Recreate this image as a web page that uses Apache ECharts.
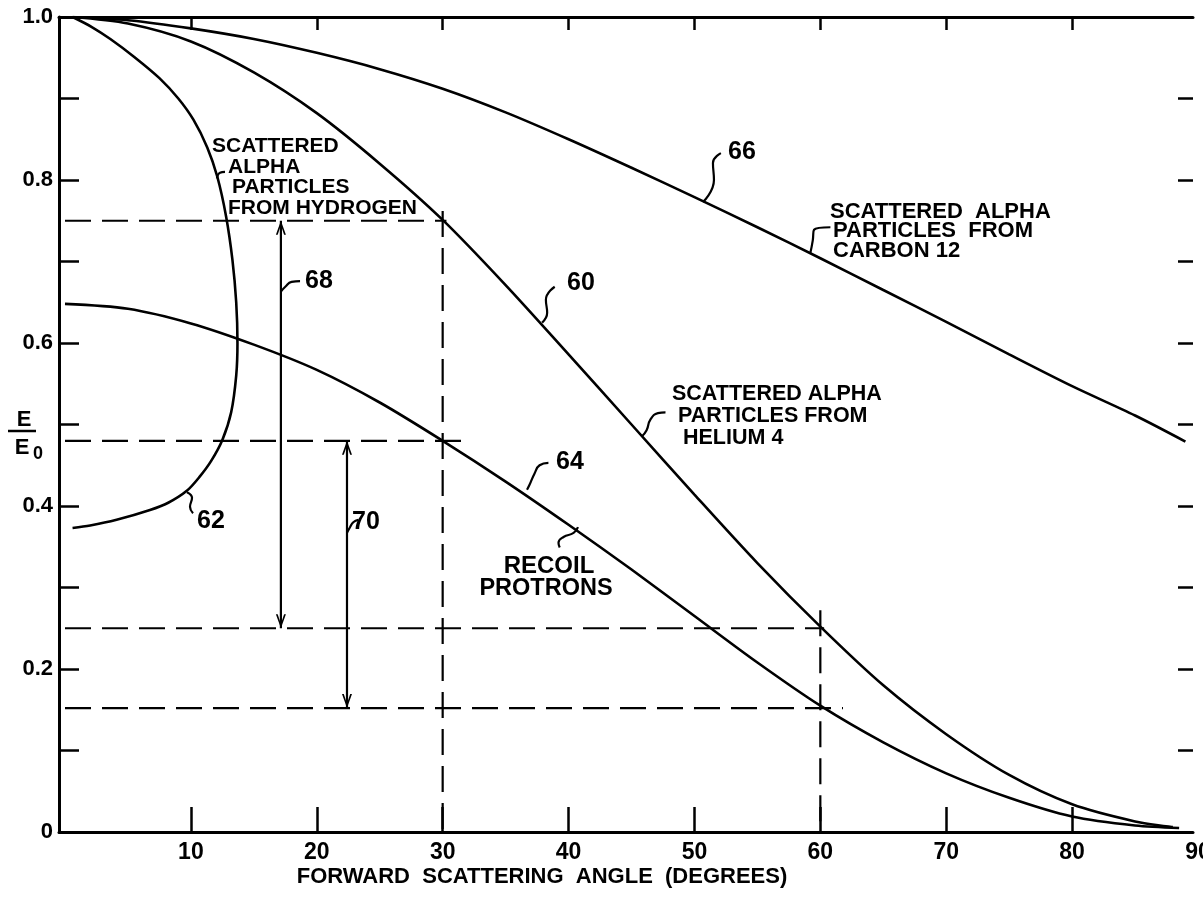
<!DOCTYPE html>
<html><head><meta charset="utf-8">
<script src="https://cdn.jsdelivr.net/npm/echarts@6/dist/echarts.min.js"></script>
<style>html,body{margin:0;padding:0;background:#fff}#c{width:1203px;height:902px}</style>
</head><body><div id="c"></div>
<script>
// ---- axis ticks / labels ----
const xTicks = [10, 20, 30, 40, 50, 60, 70, 80];
const xTickLabels = [10, 20, 30, 40, 50, 60, 70, 80, 90];
const yTickLabels = ['0', '0.2', '0.4', '0.6', '0.8', '1.0'];

// ---- curves: [angle (deg), E/E0] ----
const carbonCurve = [[0.6,1.0],[5,0.996],[10,0.986],[15,0.973],[20,0.956],[25,0.936],[30,0.912],[35,0.883],[40,0.850],[45,0.815],[50,0.779],[55,0.742],[60,0.704],[65,0.665],[70,0.626],[75,0.586],[80,0.547],[85,0.511],[89,0.479]];
const heliumCurve = [[0.6,1.0],[5,0.992],[10,0.97],[15,0.932],[20,0.882],[25,0.82],[30,0.751],[35,0.671],[40,0.586],[45,0.5],[50,0.414],[55,0.33],[60,0.252],[65,0.18],[70,0.12],[75,0.07],[80,0.034],[85,0.013],[88,0.006]];
const hydrogenCurve = [[0.6,1.0],[2.1,0.988],[3.6,0.973],[5.5,0.951],[7.5,0.925],[9,0.9],[10.2,0.874],[11.3,0.84],[12.1,0.804],[12.8,0.755],[13.3,0.702],[13.6,0.65],[13.7,0.6],[13.6,0.56],[13.2,0.515],[12.5,0.481],[11.6,0.455],[10.7,0.436],[9.7,0.419],[8.2,0.404],[6.75,0.395],[4.1,0.383],[2,0.376],[0.6,0.373]];
const protonCurve = [[0,0.648],[5,0.642],[10,0.624],[15,0.598],[20,0.567],[25,0.527],[30,0.48],[35,0.43],[40,0.377],[45,0.322],[50,0.265],[55,0.208],[60,0.155],[65,0.11],[70,0.072],[75,0.042],[80,0.019],[85,0.008],[88.5,0.005]];

// ---- dashed construction lines ----
const guide75 = [[0,0.75],[30.3,0.75]];
const guide30 = [[30,0.762],[30,0]];
const guide48 = [[0,0.48],[31.8,0.48]];
const guide25 = [[0,0.25],[60.3,0.25]];
const guide60 = [[60,0.272],[60,0]];
const guide15 = [[0,0.152],[61.8,0.152]];

// ---- double arrows ----
const arrow68 = [[17.15,0.75],[17.15,0.25]];
const arrow70 = [[22.4,0.48],[22.4,0.152]];

// ---- leader lines to reference numerals ----
const lead66 = [[50.68,0.773],[51.55,0.8],[51.47,0.821],[52.1,0.833]];
const lead60 = [[37.9,0.625],[38.3,0.637],[38.2,0.653],[38.9,0.669]];
const leadCarbon = [[59.2,0.71],[59.4,0.726],[59.5,0.739],[60.8,0.742]];
const leadHelium = [[45.8,0.485],[46.2,0.493],[46.5,0.506],[47.1,0.514],[47.7,0.515]];
const lead64 = [[36.7,0.42],[36.9,0.426],[37.3,0.44],[37.7,0.45],[38.4,0.453]];
const leadRecoil = [[40.75,0.374],[40.4,0.367],[39.6,0.362],[39.2,0.355],[39.3,0.349]];
const lead68 = [[17.15,0.663],[17.5,0.669],[18.0,0.675],[18.67,0.676]];
const lead70 = [[22.4,0.367],[22.64,0.374],[22.9,0.38],[23.3,0.383]];
const lead62 = [[9.69,0.417],[10.09,0.41],[9.93,0.399],[10.17,0.391]];
const leadAlpha = [[12.07,0.802],[12.31,0.809],[12.71,0.81]];

const FONT = '"Liberation Sans", Arial, sans-serif';
const chev = 'path://M5,0 L10,14 L8.2,14 L5,4.6 L1.8,14 L0,14 Z';

function curve(data, w) {
  return { type: 'line', xAxisIndex: 0, yAxisIndex: 0, data: data, smooth: 0.3, showSymbol: false,
    lineStyle: { color: '#000', width: w || 2.6 }, silent: true, z: 3 };
}
function dashed(data) {
  return { type: 'line', xAxisIndex: 0, yAxisIndex: 0, data: data, showSymbol: false,
    lineStyle: { color: '#000', width: 2.2, type: [26, 11] }, silent: true, z: 2 };
}
function arrow(data) {
  return { type: 'line', xAxisIndex: 0, yAxisIndex: 0, showSymbol: true, symbol: chev, symbolSize: [10, 14],
    data: [
      { value: data[0], symbolRotate: 0, symbolOffset: [0, 7] },
      { value: data[1], symbolRotate: 180, symbolOffset: [0, -7] }
    ],
    itemStyle: { color: '#000' }, lineStyle: { color: '#000', width: 2.2 }, silent: true, z: 3 };
}
function leader(data) {
  return { type: 'line', xAxisIndex: 0, yAxisIndex: 0, data: data, smooth: 0.5, showSymbol: false,
    lineStyle: { color: '#000', width: 2.2 }, silent: true, z: 3 };
}
function txt(text, x, y, size, align) {
  return { type: 'text', x: x, y: y, z: 10, silent: true,
    style: { text: text, fill: '#000', font: 'bold ' + size + 'px ' + FONT,
      align: align || 'left', verticalAlign: 'middle',
      textAlign: align || 'left', textVerticalAlign: 'middle' } };
}

const chart = echarts.init(document.getElementById('c'), null, { renderer: 'canvas' });
chart.setOption({
  animation: false,
  backgroundColor: '#fff',
  grid: [
    { left: 65, right: 5, top: 17, bottom: 70, containLabel: false, outerBoundsMode: 'none' },
    { left: 59, right: 10, top: 17, bottom: 70, containLabel: false, outerBoundsMode: 'none' }
  ],
  xAxis: [
    { gridIndex: 0, type: 'value', position: 'bottom', min: 0, max: 90, interval: 10,
      axisLine: { show: false, onZero: false }, splitLine: { show: false },
      axisTick: { show: true, inside: true, length: 25, lineStyle: { color: '#000', width: 2.5 }, customValues: xTicks },
      axisLabel: { show: true, customValues: xTickLabels, color: '#000', fontSize: 23, fontWeight: 'bold', fontFamily: FONT, margin: 9 } },
    { gridIndex: 0, type: 'value', position: 'top', min: 0, max: 90, interval: 10,
      axisLine: { show: false, onZero: false }, splitLine: { show: false },
      axisTick: { show: true, inside: true, length: 13, lineStyle: { color: '#000', width: 2.5 }, customValues: xTicks },
      axisLabel: { show: false } },
    { gridIndex: 1, type: 'value', position: 'bottom', min: 0, max: 1,
      axisLine: { show: true, onZero: false, lineStyle: { color: '#000', width: 3 } },
      axisTick: { show: false }, axisLabel: { show: false }, splitLine: { show: false } },
    { gridIndex: 1, type: 'value', position: 'top', min: 0, max: 1,
      axisLine: { show: true, onZero: false, lineStyle: { color: '#000', width: 3 } },
      axisTick: { show: false }, axisLabel: { show: false }, splitLine: { show: false } }
  ],
  yAxis: [
    { gridIndex: 0, type: 'value', min: 0, max: 1, show: false, axisLine: { onZero: false } },
    { gridIndex: 1, type: 'value', position: 'left', min: 0, max: 1, interval: 0.1,
      axisLine: { show: true, onZero: false, lineStyle: { color: '#000', width: 3 } }, splitLine: { show: false },
      axisTick: { show: true, inside: true, length: 20, lineStyle: { color: '#000', width: 2.5 } },
      axisLabel: { color: '#000', fontSize: 22, fontWeight: 'bold', fontFamily: FONT, margin: 6,
        formatter: function (v) { const i = Math.round(v * 10); return i % 2 ? '' : yTickLabels[i / 2]; } } },
    { gridIndex: 1, type: 'value', position: 'right', min: 0, max: 1, interval: 0.1,
      axisLine: { show: false, onZero: false }, splitLine: { show: false },
      axisTick: { show: true, inside: true, length: 15, lineStyle: { color: '#000', width: 2.5 } },
      axisLabel: { show: false } }
  ],
  series: [
    curve(carbonCurve), curve(heliumCurve), curve(hydrogenCurve), curve(protonCurve),
    dashed(guide75), dashed(guide30), dashed(guide48), dashed(guide25), dashed(guide60), dashed(guide15),
    arrow(arrow68), arrow(arrow70),
    leader(lead66), leader(lead60), leader(leadCarbon), leader(leadHelium), leader(lead64),
    leader(leadRecoil), leader(lead68), leader(lead70), leader(lead62), leader(leadAlpha)
  ],
  graphic: [
    // y axis title E / E0
    txt('E', 24, 420, 22, 'center'),
    { type: 'line', z: 10, silent: true, shape: { x1: 8, y1: 431, x2: 36, y2: 431 }, style: { stroke: '#000', lineWidth: 2.5 } },
    txt('E', 22, 448, 22, 'center'),
    txt('0', 38, 454, 18, 'center'),
    // x axis title
    txt('FORWARD  SCATTERING  ANGLE  (DEGREES)', 542, 877, 22, 'center'),
    // hydrogen label
    txt('SCATTERED', 212, 146, 21), txt('ALPHA', 228, 167, 21), txt('PARTICLES', 232, 187, 21), txt('FROM HYDROGEN', 228, 208, 21),
    // helium label
    txt('SCATTERED ALPHA', 672, 394, 21.5), txt('PARTICLES FROM', 678, 416, 21.5), txt('HELIUM 4', 683, 438, 21.5),
    // carbon label
    txt('SCATTERED  ALPHA', 830, 212, 22), txt('PARTICLES  FROM', 833, 231, 22), txt('CARBON 12', 833, 251, 22),
    // recoil label
    txt('RECOIL', 549, 566, 24, 'center'), txt('PROTRONS', 546, 589, 23.5, 'center'),
    // numerals
    txt('66', 742, 152, 25, 'center'), txt('60', 581, 283, 25, 'center'), txt('64', 570, 462, 25, 'center'),
    txt('62', 211, 521, 25, 'center'), txt('68', 319, 281, 25, 'center'), txt('70', 366, 522, 25, 'center')
  ]
});
</script>
</body></html>
